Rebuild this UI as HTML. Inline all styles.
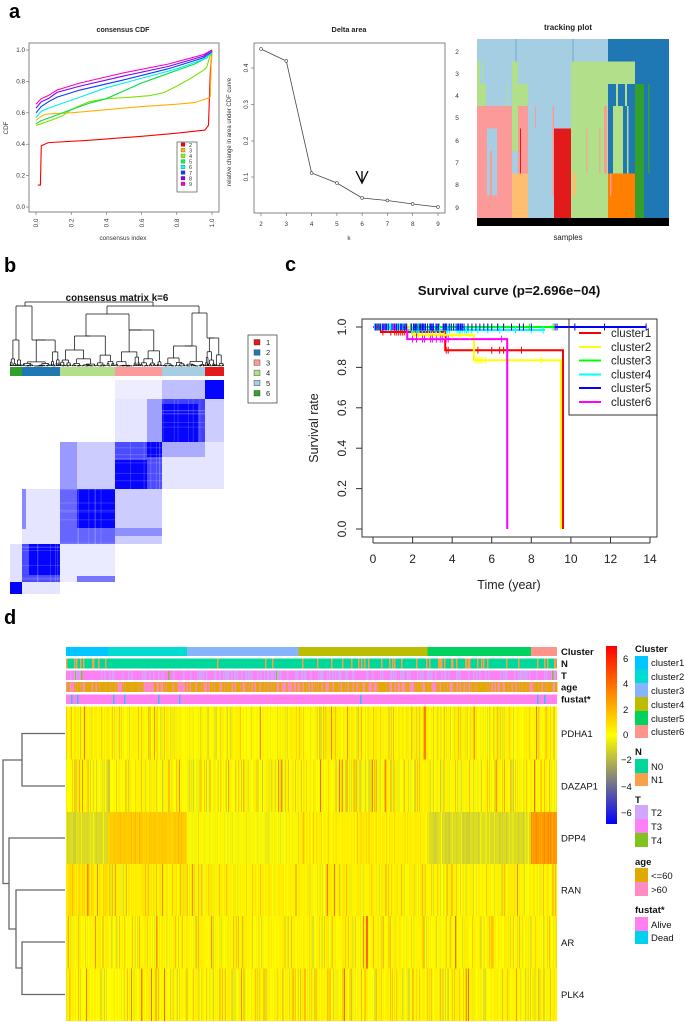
<!DOCTYPE html>
<html><head><meta charset="utf-8"><title>figure</title>
<style>
html,body{margin:0;padding:0;background:#fff;width:685px;height:1022px;overflow:hidden}
svg{display:block}
text{font-family:"Liberation Sans",Arial,sans-serif}
</style></head><body>
<svg id="s" xmlns="http://www.w3.org/2000/svg" width="685" height="1022" viewBox="0 0 685 1022">
<defs>
<linearGradient id="cb" x1="0" y1="0" x2="0" y2="1">
<stop offset="0" stop-color="#FF0000"/><stop offset="0.5" stop-color="#FFFF00"/><stop offset="1" stop-color="#0000FF"/>
</linearGradient>
</defs>
<rect width="685" height="1022" fill="#fff"/>

<!-- panel letters -->
<text x="9" y="18" font-size="20" font-weight="bold">a</text>
<text x="4" y="272" font-size="20" font-weight="bold">b</text>
<text x="285" y="271" font-size="20" font-weight="bold">c</text>
<text x="4" y="624" font-size="20" font-weight="bold">d</text>

<!-- ============ PANEL a : consensus CDF ============ -->
<text x="123" y="32" font-size="7" font-weight="bold" text-anchor="middle" fill="#222">consensus CDF</text>
<rect x="29" y="43" width="190" height="169" fill="none" stroke="#666" stroke-width="0.8"/>
<g stroke="#666" stroke-width="0.6">
<line x1="36" y1="212" x2="36" y2="215"/><line x1="71.2" y1="212" x2="71.2" y2="215"/><line x1="106.4" y1="212" x2="106.4" y2="215"/><line x1="141.6" y1="212" x2="141.6" y2="215"/><line x1="176.8" y1="212" x2="176.8" y2="215"/><line x1="212" y1="212" x2="212" y2="215"/>
<line x1="29" y1="207" x2="26" y2="207"/><line x1="29" y1="175.6" x2="26" y2="175.6"/><line x1="29" y1="144.2" x2="26" y2="144.2"/><line x1="29" y1="112.8" x2="26" y2="112.8"/><line x1="29" y1="81.4" x2="26" y2="81.4"/><line x1="29" y1="50" x2="26" y2="50"/>
</g>
<g font-size="6.3" fill="#333" text-anchor="end">
<text x="25" y="209">0.0</text><text x="25" y="177.6">0.2</text><text x="25" y="146.2">0.4</text><text x="25" y="114.8">0.6</text><text x="25" y="83.4">0.8</text><text x="25" y="52">1.0</text>
</g>
<g font-size="6.3" fill="#333" text-anchor="middle">
<text transform="translate(38.2,223) rotate(-90)">0.0</text>
<text transform="translate(73.4,223) rotate(-90)">0.2</text>
<text transform="translate(108.6,223) rotate(-90)">0.4</text>
<text transform="translate(143.8,223) rotate(-90)">0.6</text>
<text transform="translate(179,223) rotate(-90)">0.8</text>
<text transform="translate(214.2,223) rotate(-90)">1.0</text>
<text transform="translate(8,128) rotate(-90)">CDF</text>
<text x="123" y="240">consensus index</text>
</g>
<g transform="translate(36 207) scale(176 -157)" fill="none" stroke-width="1.1">
<polyline vector-effect="non-scaling-stroke" stroke="#FF0000" points="0.01,0.14 0.025,0.14 0.03,0.39 0.07,0.41 0.3,0.425 0.6,0.45 0.8,0.47 0.96,0.49 0.98,0.52 0.99,0.85 1,1"/>
<polyline vector-effect="non-scaling-stroke" stroke="#FFB000" points="0,0.55 0.02,0.57 0.05,0.59 0.1,0.595 0.2,0.60 0.4,0.62 0.6,0.64 0.8,0.655 0.9,0.665 0.97,0.69 0.99,0.70 0.995,0.9 1,1"/>
<polyline vector-effect="non-scaling-stroke" stroke="#80E000" points="0,0.52 0.03,0.53 0.08,0.55 0.15,0.58 0.2,0.62 0.3,0.67 0.4,0.69 0.55,0.70 0.65,0.71 0.73,0.73 0.8,0.77 0.88,0.82 0.95,0.87 0.97,0.89 0.985,0.95 1,0.99"/>
<polyline vector-effect="non-scaling-stroke" stroke="#00E040" points="0,0.53 0.03,0.55 0.08,0.57 0.2,0.62 0.3,0.66 0.4,0.69 0.5,0.74 0.6,0.79 0.7,0.83 0.8,0.87 0.9,0.91 0.97,0.95 1,0.99"/>
<polyline vector-effect="non-scaling-stroke" stroke="#00F0F0" points="0,0.57 0.03,0.61 0.07,0.63 0.2,0.68 0.4,0.76 0.6,0.82 0.8,0.88 0.95,0.94 1,0.98"/>
<polyline vector-effect="non-scaling-stroke" stroke="#0040FF" points="0,0.60 0.03,0.64 0.07,0.67 0.12,0.70 0.25,0.745 0.5,0.81 0.75,0.88 0.95,0.95 1,0.99"/>
<polyline vector-effect="non-scaling-stroke" stroke="#8000FF" points="0,0.63 0.03,0.67 0.07,0.69 0.12,0.73 0.25,0.77 0.5,0.835 0.75,0.895 0.95,0.96 1,1"/>
<polyline vector-effect="non-scaling-stroke" stroke="#FF00C0" points="0,0.655 0.03,0.69 0.07,0.71 0.12,0.745 0.25,0.79 0.5,0.855 0.75,0.91 0.95,0.97 1,1"/>
</g>
<rect x="177" y="142" width="20" height="50" fill="#fff" stroke="#333" stroke-width="0.6"/>
<g stroke="#444" stroke-width="0.3">
<rect x="181" y="142.8" width="4" height="3.6" fill="#FF0000"/>
<rect x="181" y="148.4" width="4" height="3.6" fill="#FFB000"/>
<rect x="181" y="154" width="4" height="3.6" fill="#80FF00"/>
<rect x="181" y="159.6" width="4" height="3.6" fill="#00FF40"/>
<rect x="181" y="165.2" width="4" height="3.6" fill="#00FFFF"/>
<rect x="181" y="170.8" width="4" height="3.6" fill="#0040FF"/>
<rect x="181" y="176.4" width="4" height="3.6" fill="#8000FF"/>
<rect x="181" y="182" width="4" height="3.6" fill="#FF00BF"/>
</g>
<g font-size="5.5" fill="#333">
<text x="189" y="146.8">2</text><text x="189" y="152.4">3</text><text x="189" y="158">4</text><text x="189" y="163.6">5</text><text x="189" y="169.2">6</text><text x="189" y="174.8">7</text><text x="189" y="180.4">8</text><text x="189" y="186">9</text>
</g>

<!-- ============ PANEL a : Delta area ============ -->
<text x="349" y="32" font-size="7.3" font-weight="bold" text-anchor="middle" fill="#222">Delta area</text>
<rect x="254" y="43" width="191" height="170" fill="none" stroke="#666" stroke-width="0.8"/>
<g stroke="#666" stroke-width="0.6">
<line x1="261" y1="213" x2="261" y2="216"/><line x1="286.3" y1="213" x2="286.3" y2="216"/><line x1="311.6" y1="213" x2="311.6" y2="216"/><line x1="336.9" y1="213" x2="336.9" y2="216"/><line x1="362.1" y1="213" x2="362.1" y2="216"/><line x1="387.4" y1="213" x2="387.4" y2="216"/><line x1="412.7" y1="213" x2="412.7" y2="216"/><line x1="438" y1="213" x2="438" y2="216"/>
<line x1="254" y1="177" x2="251" y2="177"/><line x1="254" y1="141" x2="251" y2="141"/><line x1="254" y1="104.5" x2="251" y2="104.5"/><line x1="254" y1="68" x2="251" y2="68"/>
</g>
<g font-size="6.3" fill="#333" text-anchor="middle">
<text x="261" y="226">2</text><text x="286.3" y="226">3</text><text x="311.6" y="226">4</text><text x="336.9" y="226">5</text><text x="362.1" y="226">6</text><text x="387.4" y="226">7</text><text x="412.7" y="226">8</text><text x="438" y="226">9</text>
<text transform="translate(248,177) rotate(-90)">0.1</text>
<text transform="translate(248,141) rotate(-90)">0.2</text>
<text transform="translate(248,104.5) rotate(-90)">0.3</text>
<text transform="translate(248,68) rotate(-90)">0.4</text>
<text transform="translate(231,132) rotate(-90)" font-size="6">relative change in area under CDF curve</text>
<text x="349" y="240">k</text>
</g>
<polyline fill="none" stroke="#444" stroke-width="0.8" points="261,49 286.3,61 311.6,173 336.9,183 362.1,198 387.4,200.5 412.7,204 438,207"/>
<g fill="#fff" stroke="#444" stroke-width="0.6">
<circle cx="261" cy="49" r="1.4"/><circle cx="286.3" cy="61" r="1.4"/><circle cx="311.6" cy="173" r="1.4"/><circle cx="336.9" cy="183" r="1.4"/><circle cx="362.1" cy="198" r="1.4"/><circle cx="387.4" cy="200.5" r="1.4"/><circle cx="412.7" cy="204" r="1.4"/><circle cx="438" cy="207" r="1.4"/>
</g>
<path d="M356,171 L362,183 L368,171 M362,171 L362,183" fill="none" stroke="#000" stroke-width="1.3"/>
<g font-size="6.5" fill="#333" text-anchor="middle">
<text x="457" y="54">2</text><text x="457" y="76">3</text><text x="457" y="98">4</text><text x="457" y="120">5</text><text x="457" y="143">6</text><text x="457" y="165">7</text><text x="457" y="187">8</text><text x="457" y="210">9</text>
</g>

<!-- ============ PANEL a : tracking plot ============ -->
<text x="568" y="30" font-size="8" font-weight="bold" text-anchor="middle" fill="#222">tracking plot</text>
<g shape-rendering="crispEdges">
<rect x="477" y="39" width="192" height="179" fill="#A6CEE3"/>
<rect x="608" y="39" width="61" height="22.4" fill="#1F78B4"/>
<rect x="635" y="61.4" width="34" height="156.6" fill="#1F78B4"/>
<rect x="635" y="83.8" width="9" height="134.2" fill="#33A02C"/>
<rect x="648" y="83.8" width="1.5" height="89.5" fill="#33A02C"/>
<rect x="571" y="61.4" width="64" height="156.6" fill="#B2DF8A"/>
<rect x="608" y="83.8" width="27" height="89.5" fill="#1F78B4"/>
<rect x="613" y="106.1" width="10" height="67.2" fill="#B2DF8A"/>
<rect x="616" y="83.8" width="2" height="22.3" fill="#B2DF8A"/>
<rect x="625" y="83.8" width="2" height="22.3" fill="#B2DF8A"/>
<rect x="627" y="106.1" width="1.5" height="67.2" fill="#B2DF8A"/>
<rect x="604" y="106.1" width="3" height="67.2" fill="#FB9A99"/>
<rect x="608" y="173.3" width="27" height="44.7" fill="#FF7F00"/>
<rect x="610" y="173.3" width="1.3" height="22" fill="#FB9A99"/>
<rect x="586" y="128.5" width="1.3" height="44.8" fill="#FB9A99" opacity="0.6"/>
<rect x="599" y="128.5" width="1.3" height="44.8" fill="#FB9A99" opacity="0.6"/>
<rect x="573" y="173.3" width="3" height="22.3" fill="#FDBF6F"/>
<rect x="477" y="61.4" width="3" height="22.4" fill="#B2DF8A"/>
<rect x="482" y="61.4" width="1.2" height="22.4" fill="#B2DF8A"/>
<rect x="477" y="83.8" width="9" height="22.3" fill="#B2DF8A"/>
<rect x="512" y="61.4" width="6" height="89.5" fill="#B2DF8A"/>
<rect x="518" y="83.8" width="10" height="22.3" fill="#B2DF8A"/>
<rect x="507" y="83.8" width="1.2" height="22.3" fill="#B2DF8A"/>
<rect x="477" y="106.1" width="35" height="111.9" fill="#FB9A99"/>
<rect x="518" y="106.1" width="10" height="67.2" fill="#FB9A99"/>
<rect x="487" y="128.5" width="10" height="67.1" fill="#A6CEE3"/>
<rect x="490" y="151" width="2" height="44.6" fill="#FB9A99"/>
<rect x="520" y="128.5" width="1.2" height="44.8" fill="#E31A1C"/>
<rect x="535" y="106.1" width="1.2" height="22.4" fill="#FB9A99"/>
<rect x="552.5" y="106.1" width="1.3" height="89.5" fill="#FB9A99"/>
<rect x="512" y="173.3" width="16" height="44.7" fill="#FDBF6F"/>
<rect x="554" y="128.5" width="17" height="89.5" fill="#E31A1C"/>
<rect x="515.5" y="39" width="1.2" height="22.4" fill="#6FA8D0"/>
<rect x="572.5" y="39" width="1.2" height="22.4" fill="#6FA8D0"/>
<rect x="477" y="218" width="192" height="8" fill="#000"/>
</g>
<text x="568" y="240" font-size="7.8" text-anchor="middle" fill="#222">samples</text>

<!-- ============ PANEL b ============ -->
<text x="117" y="301" font-size="9.8" font-weight="bold" text-anchor="middle" fill="#111">consensus matrix k=6</text>
<g id="bdend" stroke="#111" stroke-width="0.75"></g>
<g shape-rendering="crispEdges">
<rect x="10" y="367" width="12" height="9" fill="#33A02C"/>
<rect x="22" y="367" width="38" height="9" fill="#1F78B4"/>
<rect x="60" y="367" width="55" height="9" fill="#B2DF8A"/>
<rect x="115" y="367" width="47" height="9" fill="#FB9A99"/>
<rect x="162" y="367" width="43" height="9" fill="#A6CEE3"/>
<rect x="205" y="367" width="19" height="9" fill="#E31A1C"/>
</g>
<g fill="#0000FF" shape-rendering="crispEdges">
<!-- off-diagonal -->
<rect x="205" y="399" width="19" height="43" fill-opacity="0.2"/>
<rect x="162" y="380" width="43" height="19" fill-opacity="0.25"/>
<rect x="205" y="442" width="19" height="47" fill-opacity="0.1"/>
<rect x="115" y="380" width="47" height="19" fill-opacity="0.07"/>
<rect x="162" y="442" width="43" height="47" fill-opacity="0.1"/>
<rect x="162" y="442" width="43" height="15" fill-opacity="0.25"/>
<rect x="115" y="399" width="47" height="43" fill-opacity="0.1"/>
<rect x="147" y="399" width="15" height="43" fill-opacity="0.3"/>
<rect x="115" y="489" width="47" height="55" fill-opacity="0.2"/>
<rect x="115" y="528" width="47" height="8" fill-opacity="0.3"/>
<rect x="60" y="442" width="55" height="47" fill-opacity="0.2"/>
<rect x="60" y="442" width="17" height="47" fill-opacity="0.25"/>
<rect x="60" y="544" width="55" height="38" fill-opacity="0.08"/>
<rect x="77" y="576" width="38" height="6" fill-opacity="0.5"/>
<rect x="22" y="489" width="38" height="55" fill-opacity="0.1"/>
<rect x="22" y="489" width="4" height="40" fill-opacity="0.4"/>
<rect x="10" y="544" width="12" height="38" fill-opacity="0.12"/>
<rect x="22" y="582" width="38" height="12" fill-opacity="0.1"/>
<!-- diagonal -->
<rect x="205" y="380" width="19" height="19" fill-opacity="0.98"/>
<rect x="162" y="399" width="43" height="43" fill-opacity="0.75"/>
<rect x="162" y="404" width="36" height="38" fill-opacity="0.9"/>
<rect x="115" y="442" width="47" height="47" fill-opacity="0.7"/>
<rect x="115" y="460" width="32" height="29" fill-opacity="0.92"/>
<rect x="147" y="442" width="15" height="15" fill-opacity="0.95"/>
<rect x="60" y="489" width="55" height="55" fill-opacity="0.6"/>
<rect x="77" y="489" width="38" height="39" fill-opacity="0.95"/>
<rect x="22" y="544" width="38" height="38" fill-opacity="0.7"/>
<rect x="29" y="544" width="31" height="31" fill-opacity="0.95"/>
<rect x="10" y="582" width="12" height="12" fill-opacity="1"/>
</g>
<g id="bnoise"></g>
<rect x="248" y="335" width="29" height="68" fill="#fff" stroke="#333" stroke-width="0.7"/>
<g stroke="#333" stroke-width="0.4">
<rect x="254" y="339.5" width="6" height="5.5" fill="#E31A1C"/>
<rect x="254" y="349.7" width="6" height="5.5" fill="#1F78B4"/>
<rect x="254" y="359.9" width="6" height="5.5" fill="#FB9A99"/>
<rect x="254" y="370.1" width="6" height="5.5" fill="#B2DF8A"/>
<rect x="254" y="380.3" width="6" height="5.5" fill="#A6CEE3"/>
<rect x="254" y="390.5" width="6" height="5.5" fill="#33A02C"/>
</g>
<g font-size="7.5" fill="#222">
<text x="266" y="345">1</text><text x="266" y="355.2">2</text><text x="266" y="365.4">3</text><text x="266" y="375.6">4</text><text x="266" y="385.8">5</text><text x="266" y="396">6</text>
</g>

<!-- ============ PANEL c ============ -->
<text x="509" y="295" font-size="13.3" font-weight="bold" text-anchor="middle" fill="#111">Survival curve (p=2.696e−04)</text>
<g stroke="#333" stroke-width="1">
<line x1="373" y1="537" x2="373" y2="543"/><line x1="412.6" y1="537" x2="412.6" y2="543"/><line x1="452.2" y1="537" x2="452.2" y2="543"/><line x1="491.7" y1="537" x2="491.7" y2="543"/><line x1="531.3" y1="537" x2="531.3" y2="543"/><line x1="570.9" y1="537" x2="570.9" y2="543"/><line x1="610.5" y1="537" x2="610.5" y2="543"/><line x1="650" y1="537" x2="650" y2="543"/>
<line x1="373" y1="543" x2="650" y2="543"/>
<line x1="362" y1="327" x2="356" y2="327"/><line x1="362" y1="367.4" x2="356" y2="367.4"/><line x1="362" y1="407.8" x2="356" y2="407.8"/><line x1="362" y1="448.2" x2="356" y2="448.2"/><line x1="362" y1="488.6" x2="356" y2="488.6"/><line x1="362" y1="529" x2="356" y2="529"/>
</g>
<g font-size="12" fill="#222" text-anchor="middle">
<text x="373" y="563">0</text><text x="412.6" y="563">2</text><text x="452.2" y="563">4</text><text x="491.7" y="563">6</text><text x="531.3" y="563">8</text><text x="570.9" y="563">10</text><text x="610.5" y="563">12</text><text x="650" y="563">14</text>
<text transform="translate(346,529) rotate(-90)">0.0</text>
<text transform="translate(346,488.6) rotate(-90)">0.2</text>
<text transform="translate(346,448.2) rotate(-90)">0.4</text>
<text transform="translate(346,407.8) rotate(-90)">0.6</text>
<text transform="translate(346,367.4) rotate(-90)">0.8</text>
<text transform="translate(346,327) rotate(-90)">1.0</text>
<text transform="translate(318,428) rotate(-90)" font-size="12.5">Survival rate</text>
<text x="509" y="589" font-size="12.5">Time (year)</text>
</g>
<g id="surv" fill="none" stroke-width="2">
<path d="M373,327 H646" stroke="#0000FF"/>
<path d="M373,327 H555" stroke="#00FF00"/>
<path d="M373,327 H406.6 V330 H545" stroke="#00FFFF"/>
<path d="M373,327 H380.9 V332 H445.2 V350.2 H563 V529" stroke="#FF0000"/>
<path d="M373,327 H412.6 V335.1 H473.9 V360.3 H561 V529" stroke="#FFFF00"/>
<path d="M373,327 H407.2 V339.1 H507.2 V529" stroke="#FF00FF"/>
</g>
<g id="cens" stroke-width="1"></g>
<rect x="362" y="319" width="295" height="218" fill="none" stroke="#333" stroke-width="1"/>
<rect x="569" y="319" width="88" height="96" fill="none" stroke="#333" stroke-width="1"/>
<g stroke-width="2">
<line x1="579" y1="333" x2="601" y2="333" stroke="#FF0000"/>
<line x1="579" y1="347" x2="601" y2="347" stroke="#FFFF00"/>
<line x1="579" y1="360.5" x2="601" y2="360.5" stroke="#00FF00"/>
<line x1="579" y1="374.5" x2="601" y2="374.5" stroke="#00FFFF"/>
<line x1="579" y1="388" x2="601" y2="388" stroke="#0000FF"/>
<line x1="579" y1="402" x2="601" y2="402" stroke="#FF00FF"/>
</g>
<g font-size="11.5" fill="#222">
<text x="611" y="337">cluster1</text><text x="611" y="351">cluster2</text><text x="611" y="364.5">cluster3</text><text x="611" y="378.5">cluster4</text><text x="611" y="392">cluster5</text><text x="611" y="406">cluster6</text>
</g>

<!-- ============ PANEL d ============ -->
<g id="anno" shape-rendering="crispEdges">
<rect x="66" y="647" width="42" height="9" fill="#00C6FF"/>
<rect x="108" y="647" width="79" height="9" fill="#00DCD2"/>
<rect x="187" y="647" width="111.3" height="9" fill="#86B4FF"/>
<rect x="298.3" y="647" width="129.4" height="9" fill="#BDBD00"/>
<rect x="427.7" y="647" width="103.3" height="9" fill="#00D260"/>
<rect x="531" y="647" width="26" height="9" fill="#FF958A"/>
<rect x="66" y="658.3" width="491" height="10" fill="#00D79A"/>
<rect x="66" y="670.7" width="491" height="9.3" fill="#FF80F4"/>
<rect x="66" y="682" width="491" height="10" fill="#FF8AC4"/>
<rect x="66" y="694.3" width="491" height="9.7" fill="#FF80EE"/>
</g>
<g id="hm" shape-rendering="crispEdges">
<rect x="66" y="706.7" width="491" height="314.3" fill="#FFF000"/>
</g>
<g fill="none" stroke="#666" stroke-width="1.3">
<path d="M65,733.5 H22 V786 H65"/>
<path d="M65,942 H22 V994.5 H65"/>
<path d="M65,890 H16 V968 H22"/>
<path d="M65,838 H9 V929 H16"/>
<path d="M22,760 H3 V883.5 H9"/>
</g>
<g font-size="9.5" font-weight="bold" fill="#111">
<text x="561" y="655">Cluster</text><text x="561" y="667">N</text><text x="561" y="679">T</text><text x="561" y="690.5">age</text><text x="561" y="702.5">fustat*</text>
</g>
<g font-size="9.5" fill="#111">
<text x="561" y="737">PDHA1</text><text x="561" y="789.5">DAZAP1</text><text x="561" y="841.5">DPP4</text><text x="561" y="893.5">RAN</text><text x="561" y="946">AR</text><text x="561" y="998">PLK4</text>
</g>
<rect x="606" y="646" width="11" height="178" fill="url(#cb)"/>
<g font-size="9.5" fill="#111">
<text x="623" y="662">6</text><text x="623" y="687">4</text><text x="623" y="713">2</text><text x="623" y="738">0</text><text x="621" y="763">−2</text><text x="621" y="790">−4</text><text x="621" y="816">−6</text>
</g>
<g font-size="9.5" font-weight="bold" fill="#111">
<text x="635" y="652">Cluster</text><text x="635" y="755">N</text><text x="635" y="803">T</text><text x="635" y="865">age</text><text x="635" y="913">fustat*</text>
</g>
<g shape-rendering="crispEdges">
<rect x="635" y="656" width="13" height="13.5" fill="#00C6FF"/>
<rect x="635" y="669.5" width="13" height="13.7" fill="#00DCD2"/>
<rect x="635" y="683.2" width="13" height="13.8" fill="#86B4FF"/>
<rect x="635" y="697" width="13" height="14" fill="#BDBD00"/>
<rect x="635" y="711" width="13" height="14" fill="#00D260"/>
<rect x="635" y="725" width="13" height="13" fill="#FF958A"/>
<rect x="635" y="759" width="13" height="14" fill="#00D79A"/>
<rect x="635" y="773" width="13" height="13" fill="#F8A04A"/>
<rect x="635" y="805" width="13" height="14" fill="#D2A5FF"/>
<rect x="635" y="819" width="13" height="14" fill="#FF80F4"/>
<rect x="635" y="833" width="13" height="14" fill="#80C31E"/>
<rect x="635" y="868" width="13" height="14" fill="#E0AA00"/>
<rect x="635" y="882" width="13" height="14" fill="#FF8AC4"/>
<rect x="635" y="917" width="13" height="14" fill="#FF80EE"/>
<rect x="635" y="931" width="13" height="13" fill="#00D2EE"/>
</g>
<g font-size="9.5" fill="#111">
<text x="651" y="666">cluster1</text><text x="651" y="680">cluster2</text><text x="651" y="694">cluster3</text><text x="651" y="708">cluster4</text><text x="651" y="722">cluster5</text><text x="651" y="735">cluster6</text>
<text x="651" y="770">N0</text><text x="651" y="783">N1</text>
<text x="651" y="816">T2</text><text x="651" y="830">T3</text><text x="651" y="844">T4</text>
<text x="651" y="879">&lt;=60</text><text x="651" y="893">&gt;60</text>
<text x="651" y="928">Alive</text><text x="651" y="941">Dead</text>
</g>
</svg>
<script>
(function(){
var NS='http://www.w3.org/2000/svg';
function R(seed){var s=seed>>>0;return function(){s=(Math.imul(s,1664525)+1013904223)>>>0;return s/4294967296;};}
function el(p,t,a){var e=document.createElementNS(NS,t);for(var k in a)e.setAttribute(k,a[k]);p.appendChild(e);return e;}

/* ---- panel b dendrogram ---- */
var dg=document.getElementById('bdend');var rb=R(777);var YB=366;var LW=0.9;
function ln(x1,y1,x2,y2){el(dg,'line',{x1:x1,y1:y1,x2:x2,y2:y2});}
function rnode(x0,x1,y){
  var m=x0+(x1-x0)*(0.2+0.6*rb());
  var ya=y+(YB-y)*(0.35+0.5*rb()), yb=y+(YB-y)*(0.35+0.5*rb());
  var aL=(m-x0<LW), bL=(x1-m<LW);
  var a=aL?(x0+m)/2:rnode(x0,m,ya), b=bL?(m+x1)/2:rnode(m,x1,yb);
  ln(a,y,a,aL?YB:ya); ln(b,y,b,bL?YB:yb); ln(a,y,b,y);
  return (a+b)/2;
}
function snode(s){
  if(s.x0!==undefined){var xc=rnode(s.x0,s.x1,s.y); if(Math.abs(xc-s.x)>0.1) ln(xc,s.y,s.x,s.y); return;}
  snode(s.k[0]); snode(s.k[1]);
  var a=s.k[0], b=s.k[1];
  ln(a.x,s.y,a.x,a.y); ln(b.x,s.y,b.x,b.y); ln(a.x,s.y,b.x,s.y);
}
snode({y:302,x:89,k:[
  {y:306,x:25,k:[{x0:10,x1:22,y:340,x:16},{x0:22,x1:60,y:340,x:32}]},
  {y:306,x:153,k:[
     {y:314,x:107,k:[{x0:60,x1:115,y:336,x:86},{x0:115,x1:162,y:330,x:129}]},
     {y:313,x:199,k:[{x0:162,x1:205,y:346,x:192},{x0:205,x1:224,y:338,x:207}]}]}]});

/* ---- panel b texture ---- */
var bn=document.getElementById('bnoise');var rn=R(99);
var blocks=[[162,205,399,442],[115,162,442,489],[60,115,489,544],[22,60,544,582]];
for(var i=0;i<blocks.length;i++){var B=blocks[i];
  for(var j=0;j<6;j++){var x=B[0]+rn()*(B[1]-B[0]);
    el(bn,'rect',{x:x,y:B[2],width:0.8,height:B[3]-B[2],fill:'#fff','fill-opacity':0.2});
    var y=B[2]+rn()*(B[3]-B[2]);
    el(bn,'rect',{x:B[0],y:y,width:B[1]-B[0],height:0.8,fill:'#fff','fill-opacity':0.2});
  }}

/* ---- panel c censor marks ---- */
var cg=document.getElementById('cens');
function X(t){return 373+19.79*t;} function Y(v){return 529-202*v;}
function marks(col,v,ts){for(var i=0;i<ts.length;i++){var x=X(ts[i]),y=Y(v);el(cg,'line',{x1:x,y1:y-3.5,x2:x,y2:y+3.5,stroke:col});}}
var rc=R(4242);
function dense(a,b,step,p){var o=[];for(var t=a;t<b;t+=step){if(rc()<p)o.push(t+rc()*step*0.5);}return o;}
marks('#FF0000',1,[0.1,0.25]);
marks('#FF0000',0.975,[0.5,0.9,1.1,1.2,1.3,1.4,1.5,1.6,2.2,2.5,3.0]);
marks('#FF0000',0.885,[3.7,3.8,5.3,6.0,6.4,6.6,7.5]);
marks('#FFFF00',1,dense(0.05,2.0,0.12,0.6));
marks('#FFFF00',0.96,[2.1,2.3,2.5,2.8,3.0,3.2,3.4,3.6,4.0,4.4,4.9]);
marks('#FFFF00',0.835,[5.2,5.3,5.4,5.5,5.7,8.5]);
marks('#00FF00',1,dense(0.05,4.3,0.1,0.5).concat([4.4,5.0,5.8,6.3,6.6,7.9,9.1]));
marks('#00FFFF',1,dense(0.05,1.7,0.06,0.7));
marks('#00FFFF',0.985,dense(1.75,5,0.08,0.6).concat([5.3,5.8,6.4,7.2,8.0,8.6]));
marks('#0000FF',1,dense(0.05,4.5,0.06,0.6).concat([4.6,4.8,5.0,5.2,5.4,5.6,5.8,6.0,6.3,6.6,7.0,7.4,7.6,8.0,9.2,9.3,10.2,11.7,13.8]));
marks('#FF00FF',1,dense(0.05,1.7,0.12,0.5));
marks('#FF00FF',0.94,[2.0,2.2,2.5,2.6,2.9,3.0,3.2,3.4,3.5,3.7,3.8,6.5]);

/* ---- panel d annotations ---- */
var an=document.getElementById('anno');var ra=R(2024);
var cl=[108,187,298.3,427.7,531,557];
function cof(x){for(var i=0;i<6;i++)if(x<cl[i])return i;return 5;}
function arow(y,h,alts){for(var i=0;i<491;i++){var c=cof(66+i+0.5);var u=ra(),acc=0;
  for(var k=0;k<alts.length;k++){acc+=alts[k][1][c];if(u<acc){el(an,'rect',{x:66+i,y:y,width:1.3,height:h,fill:alts[k][0]});break;}}}}
arow(658.3,10,[['#F8A04A',[0.22,0.04,0.06,0.15,0.2,0.15]]]);
arow(670.7,9.3,[['#D2A5FF',[0.2,0.2,0.4,0.3,0.3,0.25]],['#80C31E',[0.015,0.008,0.008,0.008,0.008,0.015]]]);
arow(682,10,[['#E0AA00',[0.5,0.5,0.5,0.5,0.5,0.5]]]);
var dead=[71,77,113,124,158,179,360,537,544];
for(var i=0;i<dead.length;i++)el(an,'rect',{x:dead[i],y:694.3,width:1.4,height:9.7,fill:'#33C0F0'});

/* ---- panel d heatmap ---- */
var hm=document.getElementById('hm');var rh=R(12345);
function col(v){var t=Math.max(-1,Math.min(1,v/6.9)),r,g,b;
  if(t>=0){r=255;g=Math.round(255*(1-t));b=0;}else{var u=-t;r=Math.round(255*(1-u));g=r;b=Math.round(255*u);}
  return 'rgb('+r+','+g+','+b+')';}
function nz(){var u=rh();
  if(u<0.02)return 2.0+rh()*2.0;
  if(u<0.14)return 0.8+rh()*0.8;
  if(u<0.34)return -0.4-rh()*0.9;
  return (rh()-0.5)*0.6;}
var ry=[706.7,759.5,812,864,916,968.7,1021];
var base=[[0.3,0.3,0.3,0.3,0.3,0.25],[0.2,0.2,0.2,0.2,0.2,0.2],[-0.95,1.45,-0.2,0.45,-0.95,2.7],[0.9,0.5,0.4,0.4,0.3,0.4],[0.3,0.3,0.3,0.3,0.3,0.3],[0.25,0.25,0.25,0.25,0.25,0.25]];
for(var r=0;r<6;r++){var y0=ry[r],h=ry[r+1]-ry[r];
  for(var i=0;i<491;i++){var c=cof(66+i+0.5);var n=nz();if(r===2)n*=0.35;if(r===1&&n<0&&rh()<0.3)n-=0.4;
    el(hm,'rect',{x:66+i,y:y0,width:1.2,height:h,fill:col(base[r][c]+n)});}}
})();
</script>
</body></html>
